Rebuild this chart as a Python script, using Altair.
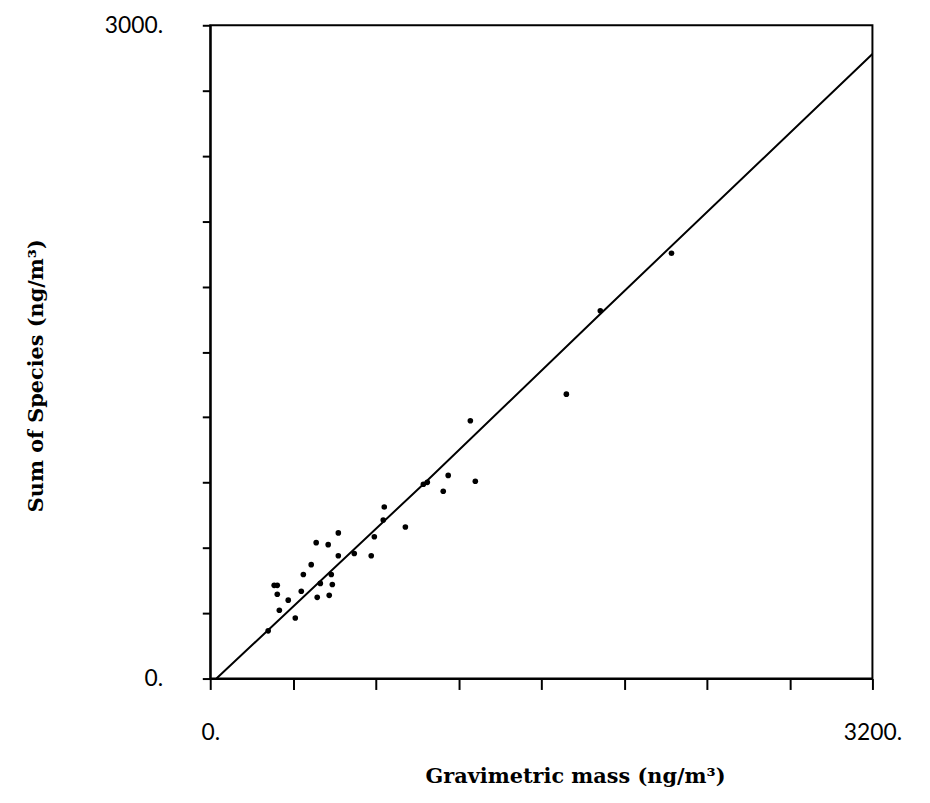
import altair as alt
import pandas as pd

# Scatter points (ng/m^3)
mass = [280, 309, 324, 324, 334, 377, 411, 440, 450, 488, 512, 517, 532, 570, 575,
        585, 590, 619, 619, 696, 778, 793, 836, 841, 943, 1030, 1049, 1126, 1150,
        1281, 1257, 1721, 1885, 2229]
species = [219, 428, 428, 387, 314, 360, 278, 401, 478, 523, 624, 373, 437, 615, 382,
           478, 432, 669, 564, 574, 564, 651, 728, 788, 696, 892, 901, 860, 933,
           906, 1184, 1306, 1689, 1953]

# Fitted line vertices
fit_x = [30, 1035, 1856, 3200]
fit_y = [0, 897, 1648, 2868]

x_ticks = [0, 400, 800, 1200, 1600, 2000, 2400, 2800, 3200]
y_ticks = [0, 300, 600, 900, 1200, 1500, 1800, 2100, 2400, 2700, 3000]

pts = pd.DataFrame({"mass": mass, "species": species})
fit = pd.DataFrame({"mass": fit_x, "species": fit_y})

xscale = alt.Scale(domain=[0, 3200], nice=False, zero=False)
yscale = alt.Scale(domain=[0, 3000], nice=False, zero=False)

label_font = "Lato"
title_font = "DejaVu Serif"

xaxis = alt.Axis(
    title="Gravimetric mass (ng/m³)",
    values=x_ticks,
    labelExpr="datum.value == 0 ? '0.' : (datum.value == 3200 ? '3200.' : '')",
    grid=False,
    domainColor="black", domainWidth=2,
    tickColor="black", tickWidth=2, tickSize=11,
    labelFont=label_font, labelFontSize=23, labelColor="black",
    labelPadding=32, labelFlush=False, labelOverlap=False,
    titleFont=title_font, titleFontWeight="bold", titleFontSize=21, titleColor="black",
    titleX=368, titleY=99, titleBaseline="middle", titleAlign="center",
)
yaxis = alt.Axis(
    title="Sum of Species (ng/m³)",
    values=y_ticks,
    labelExpr="datum.value == 0 ? '0.' : (datum.value == 3000 ? '3000.' : '')",
    grid=False,
    domainColor="black", domainWidth=2,
    tickColor="black", tickWidth=2, tickSize=8,
    labelFont=label_font, labelFontSize=23, labelColor="black",
    labelPadding=40, labelFlush=False, labelOverlap=False,
    titleFont=title_font, titleFontWeight="bold", titleFontSize=21, titleColor="black",
    titleX=-175, titleY=353, titleBaseline="middle", titleAlign="center", titleAngle=-90,
)

line = alt.Chart(fit).mark_line(color="black", strokeWidth=2).encode(
    x=alt.X("mass:Q", scale=xscale, axis=xaxis),
    y=alt.Y("species:Q", scale=yscale, axis=yaxis),
)
points = alt.Chart(pts).mark_circle(color="black", size=32, opacity=1).encode(
    x=alt.X("mass:Q", scale=xscale),
    y=alt.Y("species:Q", scale=yscale),
)

chart = (
    alt.layer(line, points)
    .properties(
        width=668, height=659,
        autosize=alt.AutoSizeParams(type="none"),
        padding={"left": 204, "top": 14, "right": 50, "bottom": 110},
        background="white",
    )
    .configure_view(stroke="black", strokeWidth=2)
)

chart.save("out.html", embed_options={"renderer": "svg", "actions": False})
